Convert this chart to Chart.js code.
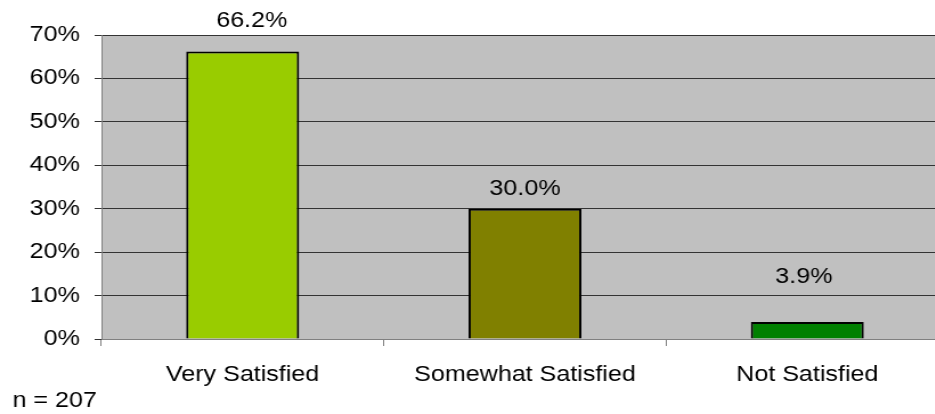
<!DOCTYPE html>
<html>
<head>
<meta charset="utf-8">
<script src="https://cdn.jsdelivr.net/npm/chart.js@4"></script>
<style>
  html, body { margin: 0; padding: 0; background: #fff; overflow: hidden; }
  #wrap { width: 832px; height: 414px; transform: scaleX(1.14); transform-origin: 0 0; }
</style>
</head>
<body>
<div id="wrap"><canvas id="chart" width="832" height="414"></canvas></div>
<script>
// -------------------------------
// Data
// -------------------------------
const categories = ['Very Satisfied', 'Somewhat Satisfied', 'Not Satisfied'];
const percentValues = [66.2, 30.0, 3.9];
const barColors = ['#99CC00', '#808000', '#008000'];
const yTickMax = 70;
const yTickStep = 10;
const sampleNote = 'n = 207';

const FONT = "'Liberation Sans', Arial, sans-serif";

// grey plot background
const plotBackground = {
    id: 'plotBackground',
    beforeDraw(chart) {
        const { ctx, chartArea } = chart;
        ctx.save();
        ctx.fillStyle = '#C0C0C0';
        ctx.fillRect(chartArea.left, chartArea.top, chartArea.right - chartArea.left, chartArea.bottom - chartArea.top);
        ctx.restore();
    }
};

// value labels above the bars + the sample size note
const barLabels = {
    id: 'barLabels',
    afterDatasetsDraw(chart, args, opts) {
        const { ctx } = chart;
        const meta = chart.getDatasetMeta(0);
        ctx.save();
        ctx.font = '22px ' + FONT;
        ctx.fillStyle = '#000';
        ctx.textAlign = 'center';
        ctx.textBaseline = 'middle';
        meta.data.forEach((bar, i) => {
            const v = chart.data.datasets[0].data[i];
            ctx.fillText(v.toFixed(1) + '%', bar.x + (opts.shiftX[i] || 0), bar.y - opts.lift[i]);
        });
        ctx.textAlign = 'left';
        ctx.fillText(sampleNote, 11, 401);
        ctx.restore();
    }
};

new Chart(document.getElementById('chart'), {
    type: 'bar',
    data: {
        labels: categories,
        datasets: [{
            data: percentValues,
            backgroundColor: barColors,
            borderColor: '#000',
            borderWidth: 2,
            borderSkipped: 'bottom',
            barPercentage: 0.4,
            categoryPercentage: 1.0
        }]
    },
    options: {
        responsive: false,
        animation: false,
        layout: { padding: { top: 35, left: 0, right: 0, bottom: 0 } },
        plugins: {
            legend: { display: false },
            tooltip: { enabled: false },
            barLabels: { lift: [31, 20, 45], shiftX: [8, 0, -3] }
        },
        scales: {
            x: {
                afterFit(scale) { scale.height = 75; },
                grid: { drawOnChartArea: false, color: '#808080', tickLength: 7 },
                border: { color: '#808080' },
                ticks: { color: '#000', font: { family: FONT, size: 22 }, padding: 16, maxRotation: 0 }
            },
            y: {
                min: 0,
                max: yTickMax,
                afterFit(scale) { scale.width = 89; },
                grid: { color: '#333', tickLength: 6 },
                border: { color: '#808080' },
                ticks: {
                    stepSize: yTickStep,
                    color: '#000',
                    padding: 13,
                    font: { family: FONT, size: 22 },
                    callback: v => v + '%'
                }
            }
        }
    },
    plugins: [plotBackground, barLabels]
});
</script>
</body>
</html>
